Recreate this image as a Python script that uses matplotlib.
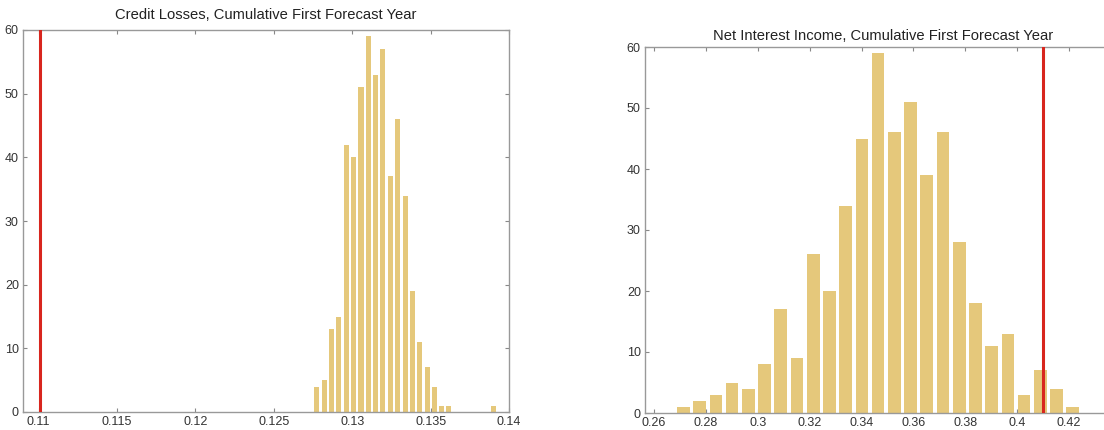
import matplotlib
matplotlib.use("Agg")
import matplotlib.pyplot as plt

plt.rcParams['font.family'] = ['Liberation Sans', 'DejaVu Sans']

# credit losses histogram (bin centres and counts)
cl_centers = [0.12775, 0.12822, 0.12869, 0.12915, 0.12962, 0.13009, 0.13056,
              0.13103, 0.13149, 0.13196, 0.13243, 0.13290, 0.13337, 0.13383,
              0.13430, 0.13477, 0.13524, 0.13571, 0.13617, 0.13664, 0.13711,
              0.13758, 0.13805, 0.13851, 0.13898]
cl_counts = [4, 5, 13, 15, 42, 40, 51, 59, 53, 57, 37, 46, 34, 19, 11, 7, 4,
             1, 1, 0, 0, 0, 0, 0, 1]
cl_actual = 0.1101
cl_xticks = [0.11, 0.115, 0.12, 0.125, 0.13, 0.135, 0.14]
cl_xticklabels = ['0.11', '0.115', '0.12', '0.125', '0.13', '0.135', '0.14']

# net interest income histogram
nii_centers = [0.27130, 0.27756, 0.28381, 0.29007, 0.29632, 0.30258, 0.30883,
               0.31509, 0.32134, 0.32760, 0.33385, 0.34011, 0.34636, 0.35262,
               0.35887, 0.36513, 0.37138, 0.37764, 0.38389, 0.39015, 0.39640,
               0.40266, 0.40891, 0.41517, 0.42142]
nii_counts = [1, 2, 3, 5, 4, 8, 17, 9, 26, 20, 34, 45, 59, 46, 51, 39, 46, 28,
              18, 11, 13, 3, 7, 4, 1]
nii_actual = 0.4098
nii_xticks = [0.26, 0.28, 0.30, 0.32, 0.34, 0.36, 0.38, 0.40, 0.42]
nii_xticklabels = ['0.26', '0.28', '0.3', '0.32', '0.34', '0.36', '0.38',
                   '0.4', '0.42']

yticks = [0, 10, 20, 30, 40, 50, 60]

BAR = '#e5c87b'
RED = '#d8261e'
W, H = 1104, 430


def setup(ax, title, xlim, xticks, xlabels, tpad):
    ax.set_xlim(*xlim)
    ax.set_ylim(0, 60)
    ax.set_xticks(xticks)
    ax.set_xticklabels(xlabels)
    ax.set_yticks(yticks)
    ax.tick_params(direction='in', length=3, width=0.8, color='#888888',
                   labelsize=9, labelcolor='#333333', top=True, right=True,
                   pad=3)
    for s in ax.spines.values():
        s.set_color('#999999')
        s.set_linewidth(1.0)
    ax.set_title(title, fontsize=10.6, color='#222222', pad=tpad)


fig = plt.figure(figsize=(W / 100, H / 100), dpi=100)

ax1 = fig.add_axes([23 / W, 1 - 412 / H, (509 - 23) / W, (412 - 30) / H])
w1 = (cl_centers[1] - cl_centers[0]) * 0.68
ax1.bar(cl_centers, cl_counts, width=w1, color=BAR, zorder=2)
ax1.axvline(cl_actual, color=RED, lw=2.2, zorder=3)
setup(ax1, 'Credit Losses, Cumulative First Forecast Year', (0.109, 0.14),
      cl_xticks, cl_xticklabels, 8)

ax2 = fig.add_axes([645 / W, 1 - 413 / H, (1121 - 645) / W, (413 - 47) / H])
w2 = (nii_centers[1] - nii_centers[0]) * 0.78
ax2.bar(nii_centers, nii_counts, width=w2, color=BAR, zorder=2)
ax2.axvline(nii_actual, color=RED, lw=2.2, zorder=3)
setup(ax2, 'Net Interest Income, Cumulative First Forecast Year',
      (0.2565, 0.44), nii_xticks, nii_xticklabels, 5)

fig.savefig('out.png', dpi=100)
